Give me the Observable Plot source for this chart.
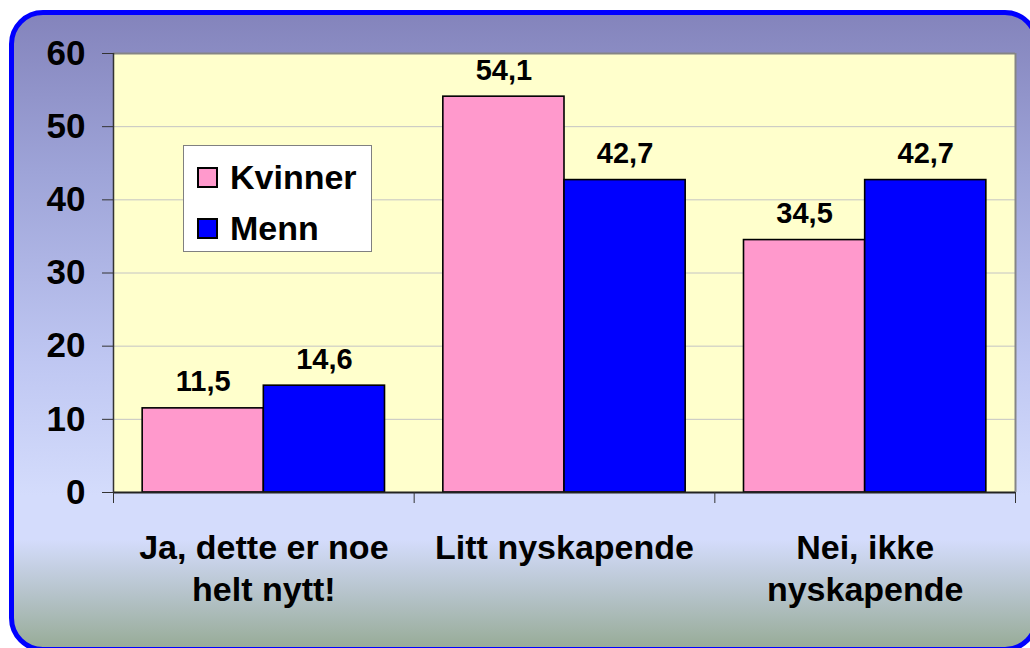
<!DOCTYPE html>
<html>
<head>
<meta charset="utf-8">
<script src="https://cdn.jsdelivr.net/npm/d3@7"></script>
<script src="https://cdn.jsdelivr.net/npm/@observablehq/plot@0.6"></script>
<style>
  html, body { margin: 0; padding: 0; background: #ffffff; overflow: hidden; width: 1030px; height: 648px; }
  #wrap { position: relative; width: 1030px; height: 648px; overflow: hidden; font-family: "Liberation Sans", Arial, sans-serif; }
  #bg {
    position: absolute; left: 9px; top: 10px; width: 1030px; height: 642px;
    box-sizing: border-box; border: 5px solid #0000FF; border-radius: 34px;
    background: linear-gradient(to bottom, #8484BC 0%, #9EA4D8 25%, #BFC7F2 55%, #D4DCFC 76%, #D4DCFC 83%, #B4C2C8 92%, #98AC98 100%);
  }
  #chart { position: absolute; left: 0; top: 0; }
  #legend {
    position: absolute; left: 183px; top: 145px; width: 189px; height: 107px;
    box-sizing: border-box; background: #ffffff; border: 1.5px solid #808080;
    padding-top: 6px; padding-left: 13px;
  }
  .row { display: flex; align-items: center; height: 51px; font-weight: bold; font-size: 34px; color: #000; }
  .sw { display: inline-block; width: 17px; height: 17px; border: 2px solid #000; margin-right: 12px; }
</style>
</head>
<body>
<div id="wrap">
  <div id="bg"></div>
  <div id="chart"></div>
  <div id="legend"></div>
</div>
<script>
// ---- data ----
const categories = ["Ja, dette er noe helt nytt!", "Litt nyskapende", "Nei, ikke nyskapende"];
const categoryLabels = ["Ja, dette er noe\nhelt nytt!", "Litt nyskapende", "Nei, ikke\nnyskapende"];
const series = ["Kvinner", "Menn"];
const kvinner = [11.5, 54.1, 34.5];
const menn = [14.6, 42.7, 42.7];
const yTicks = [0, 10, 20, 30, 40, 50, 60];
const seriesColors = ["#FF99CC", "#0000FF"];

// ---- table built from arrays ----
const values = [kvinner, menn];
const rows = categories.flatMap((cat, i) =>
  series.map((s, k) => ({ cat, i, s, k, v: values[k][i] }))
);

// group layout in category units (each category occupies [i, i+1])
const groupPad = 0.097;
const barW = (1 - 2 * groupPad) / series.length;

const chart = Plot.plot({
  width: 1030,
  height: 648,
  marginLeft: 113,
  marginRight: 15,
  marginTop: 53,
  marginBottom: 156,
  style: { background: "transparent", fontFamily: "'Liberation Sans', Arial, sans-serif", fontWeight: "bold", color: "#000" },
  x: { domain: [0, categories.length], axis: null },
  y: { domain: [0, 60], axis: null },
  color: { domain: series, range: seriesColors },
  marks: [
    Plot.frame({ fill: "#FFFFCC", stroke: null }),
    Plot.ruleY(yTicks.slice(1, -1), { stroke: "#C4C4C4", strokeWidth: 1 }),
    Plot.ruleY([60], { stroke: "#858585", strokeWidth: 2 }),
    Plot.ruleX([categories.length], { stroke: "#858585", strokeWidth: 2 }),
    Plot.rectY(rows, {
      x1: d => d.i + groupPad + d.k * barW,
      x2: d => d.i + groupPad + (d.k + 1) * barW,
      y1: 0,
      y2: "v",
      fill: "s",
      stroke: "#000",
      strokeWidth: 1.6
    }),
    Plot.ruleY([0], { stroke: "#222", strokeWidth: 2 }),
    Plot.ruleX([0], { stroke: "#333", strokeWidth: 1.5 }),
    Plot.axisY({ ticks: yTicks, tickSize: 11, tickPadding: 17, fontSize: 35, stroke: "#333", label: null, tickFormat: d => String(d) }),
    Plot.axisX({ ticks: d3.range(categories.length + 1), tickSize: 11, tickFormat: () => "", stroke: "#333", label: null }),
    Plot.text(rows, {
      x: d => d.i + groupPad + (d.k + 0.5) * barW,
      y: "v",
      text: d => d.v.toFixed(1).replace(".", ","),
      lineAnchor: "bottom",
      dy: -17,
      fontSize: 29,
      fontWeight: "bold",
      fill: "#000"
    }),
    Plot.text(categoryLabels, {
      x: (d, i) => i + 0.5,
      frameAnchor: "bottom",
      text: d => d,
      lineAnchor: "top",
      dy: 36,
      lineHeight: 1.25,
      fontSize: 34,
      fontWeight: "bold",
      fill: "#000"
    })
  ]
});
document.getElementById("chart").appendChild(chart);

// ---- legend ----
const legend = d3.select("#legend");
series.forEach((s, k) => {
  const row = legend.append("div").attr("class", "row");
  row.append("span").attr("class", "sw").style("background", seriesColors[k]);
  row.append("span").text(s);
});
</script>
</body>
</html>
